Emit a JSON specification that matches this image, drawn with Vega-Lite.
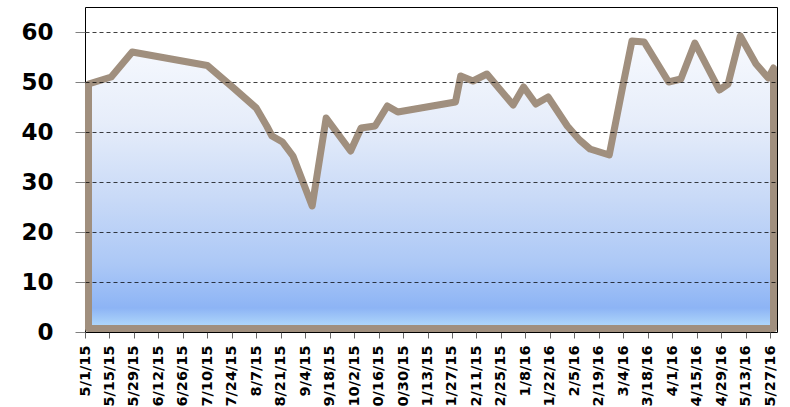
{
  "$schema": "https://vega.github.io/schema/vega-lite/v6.json",
  "width": 692,
  "height": 325,
  "autosize": {"type": "none"},
  "padding": {"left": 85, "top": 7, "right": 13, "bottom": 75},
  "background": "#ffffff",
  "config": {"view": {"stroke": "#000000", "strokeWidth": 1}},
  "data": {
    "values": [
      {"date": "2015-05-03", "value": 49.6},
      {"date": "2015-05-16", "value": 51.0},
      {"date": "2015-05-28", "value": 56.0},
      {"date": "2015-07-10", "value": 53.3},
      {"date": "2015-07-19", "value": 50.6},
      {"date": "2015-07-25", "value": 48.8},
      {"date": "2015-08-07", "value": 44.8},
      {"date": "2015-08-13", "value": 41.2},
      {"date": "2015-08-16", "value": 39.2},
      {"date": "2015-08-22", "value": 38.0},
      {"date": "2015-08-28", "value": 35.2},
      {"date": "2015-09-08", "value": 25.2},
      {"date": "2015-09-16", "value": 42.8},
      {"date": "2015-09-30", "value": 36.2},
      {"date": "2015-10-06", "value": 40.8},
      {"date": "2015-10-14", "value": 41.2},
      {"date": "2015-10-21", "value": 45.2},
      {"date": "2015-10-27", "value": 44.0},
      {"date": "2015-11-29", "value": 46.0},
      {"date": "2015-12-02", "value": 51.2},
      {"date": "2015-12-09", "value": 50.2},
      {"date": "2015-12-17", "value": 51.6},
      {"date": "2016-01-01", "value": 45.4},
      {"date": "2016-01-07", "value": 49.0},
      {"date": "2016-01-14", "value": 45.6},
      {"date": "2016-01-21", "value": 47.0},
      {"date": "2016-02-01", "value": 41.2},
      {"date": "2016-02-08", "value": 38.4},
      {"date": "2016-02-14", "value": 36.6},
      {"date": "2016-02-25", "value": 35.4},
      {"date": "2016-03-04", "value": 49.6},
      {"date": "2016-03-09", "value": 58.2},
      {"date": "2016-03-16", "value": 58.0},
      {"date": "2016-03-30", "value": 50.0},
      {"date": "2016-04-06", "value": 50.6},
      {"date": "2016-04-14", "value": 57.8},
      {"date": "2016-04-28", "value": 48.4},
      {"date": "2016-05-03", "value": 49.6},
      {"date": "2016-05-10", "value": 59.2},
      {"date": "2016-05-19", "value": 53.6},
      {"date": "2016-05-26", "value": 50.8},
      {"date": "2016-05-29", "value": 52.8}
    ]
  },
  "mark": {
    "type": "area",
    "interpolate": "linear",
    "stroke": "#a08f7e",
    "strokeWidth": 7,
    "strokeJoin": "round",
    "fill": {
      "gradient": "linear",
      "x1": 0, "y1": 0, "x2": 0, "y2": 1,
      "stops": [
        {"offset": 0, "color": "#f8fafe"},
        {"offset": 0.3, "color": "#e6edfa"},
        {"offset": 0.55, "color": "#c9daf7"},
        {"offset": 0.78, "color": "#acc8f6"},
        {"offset": 0.93, "color": "#8db4f5"},
        {"offset": 1, "color": "#b4dcfb"}
      ]
    }
  },
  "encoding": {
    "x": {
      "field": "date",
      "type": "temporal",
      "scale": {"type": "utc", "domain": [1430438400000, 1464652800000]},
      "axis": {
        "title": null,
        "grid": false,
        "domain": false,
        "values": [1430438400000, 1431648000000, 1432857600000, 1434067200000, 1435276800000, 1436486400000, 1437696000000, 1438905600000, 1440115200000, 1441324800000, 1442534400000, 1443744000000, 1444953600000, 1446163200000, 1447372800000, 1448582400000, 1449792000000, 1451001600000, 1452211200000, 1453420800000, 1454630400000, 1455840000000, 1457049600000, 1458259200000, 1459468800000, 1460678400000, 1461888000000, 1463097600000, 1464307200000],
        "labelExpr": "utcFormat(datum.value, '%-m/%-d/%y')",
        "labelAngle": -90,
        "labelFont": "DejaVu Sans",
        "labelFontWeight": "bold",
        "labelFontSize": 14.5,
        "labelColor": "#000000",
        "labelPadding": 7,
        "labelOverlap": false,
        "labelBound": false,
        "tickSize": 6,
        "tickColor": "#666666",
        "tickWidth": 1
      }
    },
    "y": {
      "field": "value",
      "type": "quantitative",
      "scale": {"domain": [0, 65], "nice": false},
      "axis": {
        "title": null,
        "values": [0, 10, 20, 30, 40, 50, 60],
        "domain": false,
        "grid": true,
        "gridDash": [4, 3],
        "gridColor": "#000000",
        "gridOpacity": 0.75,
        "gridWidth": 1,
        "tickSize": 10,
        "tickColor": "#808080",
        "labelFont": "DejaVu Sans",
        "labelFontWeight": "bold",
        "labelFontSize": 23,
        "labelColor": "#000000",
        "labelPadding": 22,
        "labelOffset": 0,
        "zindex": 1
      }
    },
    "y2": {"datum": 0.7}
  }
}
